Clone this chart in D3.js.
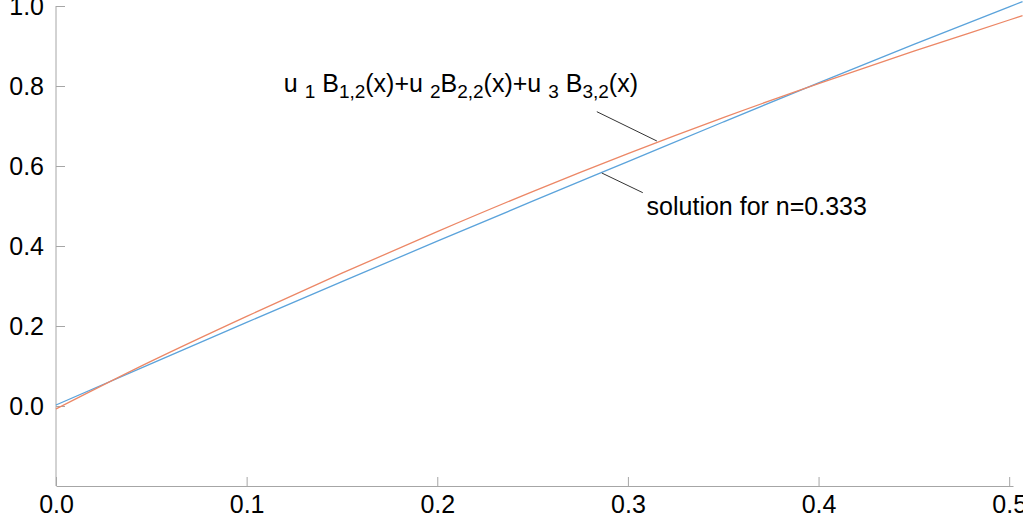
<!DOCTYPE html>
<html><head><meta charset="utf-8">
<script src="https://cdn.jsdelivr.net/npm/d3@7"></script>
<style>
html,body{margin:0;padding:0;background:#fff;}
svg{display:block;font-family:"Liberation Sans",Arial,sans-serif;}
</style></head>
<body>
<svg id="chart" width="1023" height="527"></svg>
<script>
// ---- data ----
const xTicks = [0.0, 0.1, 0.2, 0.3, 0.4, 0.5];
const yTicks = [0.0, 0.2, 0.4, 0.6, 0.8, 1.0];
const xs = [0, 0.05, 0.1, 0.15, 0.2, 0.25, 0.3, 0.35, 0.4, 0.45, 0.5, 0.507];
const splineValues   = [-0.0075, 0.112, 0.224, 0.332, 0.436, 0.536, 0.631, 0.721, 0.806, 0.887, 0.965, 0.976];
const solutionValues = [0.0025, 0.106, 0.209, 0.311, 0.412, 0.512, 0.611, 0.710, 0.808, 0.904, 0.998, 1.011];
const labelSolution = "solution for n=0.333";
// annotation anchors in data coords: [textEnd, curvePoint]
const leaderSpline   = [[0.2837, 0.7358], [0.3152, 0.6625]];
const leaderSolution = [[0.2863, 0.5825], [0.3078, 0.5333]];
const splineLabelPos = [0.1195, 0.785];
const solutionLabelPos = [0.3098, 0.4775];

// ---- layout ----
const svg = d3.select("#chart");
const x = d3.scaleLinear().domain([0, 0.502]).range([56, 1013]);
const y = d3.scaleLinear().domain([-0.2, 1.0]).range([486, 6]);
const axisColor = "#a6a6a6";
const fontSize = 25;

// y axis
const yAxis = svg.append("g").attr("transform", `translate(${x(0)},0)`)
  .call(d3.axisRight(y).tickValues(yTicks).tickFormat(d3.format(".1f")).tickSize(9).tickSizeOuter(0));
yAxis.select(".domain").attr("stroke", axisColor).attr("d", `M0,${y(1.0)}V${y(-0.2)}`);
yAxis.selectAll(".tick line").attr("stroke", axisColor);
yAxis.selectAll(".tick text").attr("x", -12).attr("text-anchor", "end")
  .attr("font-size", fontSize).attr("fill", "#000").attr("dy", "0.35em")
  .attr("font-family", '"Liberation Sans",Arial,sans-serif');

// x axis
const xAxis = svg.append("g").attr("transform", `translate(0,${y(-0.2)})`)
  .call(d3.axisTop(x).tickValues(xTicks).tickFormat(d3.format(".1f")).tickSize(9).tickSizeOuter(0));
xAxis.select(".domain").attr("stroke", axisColor);
xAxis.selectAll(".tick line").attr("stroke", axisColor);
xAxis.selectAll(".tick text").attr("y", 27).attr("dy", 0)
  .attr("font-size", fontSize).attr("fill", "#000")
  .attr("font-family", '"Liberation Sans",Arial,sans-serif');

// curves
const line = d3.line().x((d) => x(d[0])).y((d) => y(d[1])).curve(d3.curveMonotoneX);
svg.append("path").datum(xs.map((v, i) => [v, solutionValues[i]]))
  .attr("d", line).attr("fill", "none").attr("stroke", "#5ba3db").attr("stroke-width", 1.3);
svg.append("path").datum(xs.map((v, i) => [v, splineValues[i]]))
  .attr("d", line).attr("fill", "none").attr("stroke", "#ec8766").attr("stroke-width", 1.3);

// leader lines
[leaderSpline, leaderSolution].forEach((seg) => {
  svg.append("line")
    .attr("x1", x(seg[0][0])).attr("y1", y(seg[0][1]))
    .attr("x2", x(seg[1][0])).attr("y2", y(seg[1][1]))
    .attr("stroke", "#333").attr("stroke-width", 1);
});

// spline label with subscripts
const parts = [
  ["u", 0], ["\u00a0", 0], ["1", 1], ["\u00a0", 0], ["B", 0], ["1,2", 1], ["(x)+u", 0], ["\u00a0", 0], ["2", 1],
  ["B", 0], ["2,2", 1], ["(x)+u", 0], ["\u00a0", 0], ["3", 1], ["\u00a0", 0], ["B", 0], ["3,2", 1], ["(x)", 0]
];
const t = svg.append("text").attr("x", x(splineLabelPos[0])).attr("y", y(splineLabelPos[1]))
  .attr("font-size", fontSize).attr("fill", "#000");
let prevSub = 0;
parts.forEach(([s, sub]) => {
  const ts = t.append("tspan").text(s);
  if (sub !== prevSub) ts.attr("dy", sub ? 6 : -6);
  if (sub) ts.attr("font-size", 19);
  prevSub = sub;
});

svg.append("text").attr("x", x(solutionLabelPos[0])).attr("y", y(solutionLabelPos[1]))
  .attr("font-size", fontSize).attr("fill", "#000").text(labelSolution);
</script>
</body></html>
